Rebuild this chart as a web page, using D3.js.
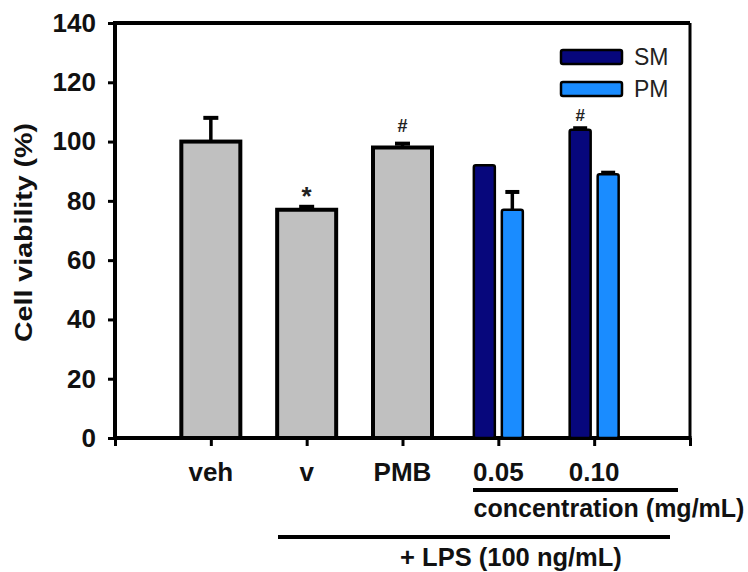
<!DOCTYPE html>
<html>
<head>
<meta charset="utf-8">
<script src="https://cdn.jsdelivr.net/npm/d3@7"></script>
<style>
  html, body { margin: 0; padding: 0; background: #fff; }
  svg { display: block; font-family: Arial, "Liberation Sans", sans-serif; }
</style>
</head>
<body>
<div id="chart"></div>
<script>
// ---- data ----
const categories = ["veh", "v", "PMB", "0.05", "0.10"];
const greyValues = [100, 77, 98];          // veh, v, PMB
const greyErrors = [8, 1, 1.3];
const greyMarks  = ["", "*", "#"];
const seriesNames = ["SM", "PM"];
const smValues = [92, 104];                // 0.05, 0.10
const smErrors = [0, 0.5];
const smMarks  = ["", "#"];
const pmValues = [77, 89];
const pmErrors = [6, 0.5];
const pmMarks  = ["", ""];
const yTicks = [0, 20, 40, 60, 80, 100, 120, 140];

const W = 748, H = 572;
const colors = { grey: "#c0c0c0", SM: "#07077c", PM: "#1a8cff" };

const svg = d3.select("#chart").append("svg")
  .attr("width", W).attr("height", H);

const x = d3.scaleLinear().domain([0, 6]).range([115, 690]);
const y = d3.scaleLinear().domain([0, 140]).range([438, 23]);

// ---- frame / axes ----
svg.append("line").attr("x1", x(0)).attr("x2", x(6)).attr("y1", y(140)).attr("y2", y(140))
  .attr("stroke", "#000").attr("stroke-width", 4);
svg.append("line").attr("x1", x(6)).attr("x2", x(6)).attr("y1", y(140)).attr("y2", y(0))
  .attr("stroke", "#000").attr("stroke-width", 3);

const yAxis = svg.append("g").attr("transform", `translate(${x(0)},0)`)
  .call(d3.axisLeft(y).tickValues(yTicks).tickSize(7).tickPadding(12));
yAxis.select(".domain").attr("stroke-width", 4).attr("d", `M0,${y(140) - 2}V${y(0) + 2}`);
yAxis.selectAll(".tick line").attr("stroke-width", 3);
yAxis.selectAll(".tick text").attr("font-size", 26).attr("font-weight", "bold")
  .attr("fill", "#111").attr("font-family", "Arial, 'Liberation Sans', sans-serif");

const xAxis = svg.append("g").attr("transform", `translate(0,${y(0)})`)
  .call(d3.axisBottom(x).tickValues([0, 1, 2, 3, 4, 5, 6]).tickSize(8).tickFormat(""));
xAxis.select(".domain").attr("stroke-width", 4).attr("d", `M${x(0) - 2},0H${x(6) + 1.5}`);
xAxis.selectAll(".tick line").attr("stroke-width", 3);

// y title
svg.append("text")
  .attr("transform", `translate(32,${(y(0) + y(140)) / 2 + 2}) rotate(-90)`)
  .attr("text-anchor", "middle").attr("font-size", 24).attr("font-weight", "bold")
  .attr("textLength", 219).attr("lengthAdjust", "spacingAndGlyphs")
  .attr("fill", "#111").text("Cell viability (%)");

// ---- bars ----
function errorBar(g, cx, v, e, capW) {
  if (e <= 0) return;
  g.append("line").attr("x1", cx).attr("x2", cx).attr("y1", y(v)).attr("y2", y(v + e))
    .attr("stroke", "#000").attr("stroke-width", 3.5);
  g.append("line").attr("x1", cx - capW / 2).attr("x2", cx + capW / 2)
    .attr("y1", y(v + e)).attr("y2", y(v + e))
    .attr("stroke", "#000").attr("stroke-width", 4);
}
function mark(g, cx, v, e, m, size, dy) {
  if (!m) return;
  g.append("text").attr("x", cx).attr("y", y(v + e) - dy)
    .attr("text-anchor", "middle").attr("font-size", size).attr("font-weight", "bold")
    .attr("fill", "#222").text(m);
}

const bars = svg.append("g");
const greyW = 59;
greyValues.forEach((v, i) => {
  const cx = x(i + 1);
  bars.append("rect").attr("x", cx - greyW / 2).attr("y", y(v))
    .attr("width", greyW).attr("height", y(0) - y(v))
    .attr("fill", colors.grey).attr("stroke", "#000").attr("stroke-width", 4);
  errorBar(bars, cx, v, greyErrors[i], 15);
  mark(bars, cx, v, greyErrors[i], greyMarks[i], i === 1 ? 26 : 18, i === 1 ? 2 : 12);
});

const blueW = 21, off = 14;
[[smValues, smErrors, smMarks, "SM", -off], [pmValues, pmErrors, pmMarks, "PM", off]]
  .forEach(([vals, errs, marks, name, dx]) => {
    vals.forEach((v, i) => {
      const cx = x(i + 4) + dx;
      bars.append("rect").attr("x", cx - blueW / 2).attr("y", y(v))
        .attr("width", blueW).attr("height", y(0) - y(v)).attr("rx", 2)
        .attr("fill", colors[name]).attr("stroke", "#000").attr("stroke-width", 2.5);
      errorBar(bars, cx, v, errs[i], 14);
      mark(bars, cx, v, errs[i], marks[i], 17, 7);
    });
  });

// ---- legend ----
const legend = svg.append("g");
seriesNames.forEach((n, i) => {
  const ly = 50 + i * 32;
  legend.append("rect").attr("x", 561).attr("y", ly).attr("width", 61).attr("height", 14)
    .attr("rx", 2).attr("fill", colors[n]).attr("stroke", "#000").attr("stroke-width", 2.5);
  legend.append("text").attr("x", 634).attr("y", ly + 15).attr("font-size", 23)
    .attr("fill", "#222").text(n);
});

// ---- category labels ----
svg.append("g").selectAll("text").data(categories).join("text")
  .attr("x", (d, i) => x(i + 1)).attr("y", 481)
  .attr("text-anchor", "middle").attr("font-size", 26).attr("font-weight", "bold")
  .attr("fill", "#111").text(d => d);

// concentration bracket
svg.append("line").attr("x1", 473).attr("x2", 678).attr("y1", 490).attr("y2", 490)
  .attr("stroke", "#000").attr("stroke-width", 4);
svg.append("text").attr("x", 609).attr("y", 517).attr("text-anchor", "middle")
  .attr("font-size", 25).attr("font-weight", "bold").attr("fill", "#111")
  .text("concentration (mg/mL)");

// LPS bracket
svg.append("line").attr("x1", 278).attr("x2", 670).attr("y1", 537).attr("y2", 537)
  .attr("stroke", "#000").attr("stroke-width", 4);
svg.append("text").attr("x", 511).attr("y", 566).attr("text-anchor", "middle")
  .attr("font-size", 25.5).attr("font-weight", "bold").attr("fill", "#111")
  .text("+ LPS (100 ng/mL)");
</script>
</body>
</html>
